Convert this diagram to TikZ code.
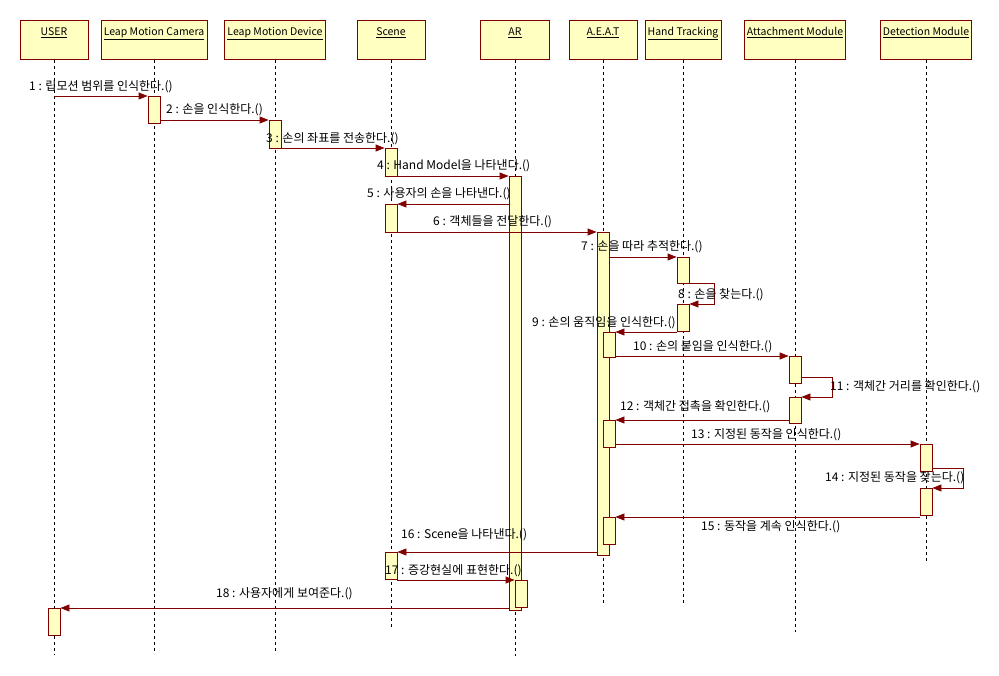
\documentclass[tikz,border=0pt]{standalone}
\usepackage{fontspec}
\setmainfont{Noto Sans CJK KR}
\usetikzlibrary{arrows.meta}
\definecolor{boxfill}{RGB}{255,255,194}
\definecolor{boxline}{RGB}{128,0,0}
\begin{document}
\begin{tikzpicture}[x=1pt,y=-1pt,
	head/.style={draw=boxline,fill=boxfill,line width=0.8pt,anchor=north,minimum height=39pt,inner xsep=0pt,inner ysep=6pt,text height=8pt,text depth=17pt,font=\fontsize{10.5}{12}\selectfont},
	act/.style={draw=boxline,fill=boxfill,line width=0.8pt,anchor=north,minimum width=12pt,inner sep=0pt},
	life/.style={dash pattern=on 3pt off 3pt,line width=0.75pt},
	msg/.style={boxline,line width=0.8pt,-{Triangle[length=9pt,width=7pt]}},
	lbl/.style={anchor=west,inner sep=0pt,font=\fontsize{12}{14}\selectfont}]
				\useasboundingbox (0,0) rectangle (999,676);
				\node[head,minimum width=68pt] (user) at (54,20){\underline{USER}};
				\node[head,minimum width=106pt] (cam) at (154,20){\underline{Leap Motion Camera}};
				\node[head,minimum width=101pt] (dev) at (275,20){\underline{Leap Motion Device}};
				\node[head,minimum width=68pt] (scene) at (391,20){\underline{Scene}};
				\node[head,minimum width=69pt] (ar) at (515,20){\underline{AR}};
				\node[head,minimum width=68pt] (aeat) at (603,20){\underline{A.E.A.T}};
				\node[head,minimum width=76pt] (hand) at (683,20){\underline{Hand Tracking}};
				\node[head,minimum width=101pt] (attach) at (795,20){\underline{Attachment Module}};
				\node[head,minimum width=91pt] (detect) at (926,20){\underline{Detection Module}};
				\draw[life] (user.south)--(user.south |- 0,655);
				\draw[life] (cam.south)--(cam.south |- 0,651);
				\draw[life] (dev.south)--(dev.south |- 0,651);
				\draw[life] (scene.south)--(scene.south |- 0,627);
				\draw[life] (ar.south)--(ar.south |- 0,656);
				\draw[life] (aeat.south)--(aeat.south |- 0,603);
				\draw[life] (hand.south)--(hand.south |- 0,603);
				\draw[life] (attach.south)--(attach.south |- 0,632);
				\draw[life] (detect.south)--(detect.south |- 0,562);
				\node[act,minimum height=27pt] (cam1) at (154,96){};
				\node[act,minimum height=28pt] (dev1) at (275,120){};
				\node[act,minimum height=28pt] (sc1) at (391,148){};
				\node[act,minimum height=434pt] (ar1) at (515,176){};
				\node[act,minimum height=28pt] (sc2) at (391,204){};
				\node[act,minimum height=323pt] (ae1) at (603,232){};
				\node[act,minimum height=26pt] (ht1) at (683,257){};
				\node[act,minimum height=27pt] (ht2) at (683,304){};
				\node[act,minimum height=25pt] (ae2) at (609,332){};
				\node[act,minimum height=27pt] (att1) at (795,356){};
				\node[act,minimum height=26pt] (att2) at (795,397){};
				\node[act,minimum height=27pt] (ae3) at (609,420){};
				\node[act,minimum height=27pt] (det1) at (926,444){};
				\node[act,minimum height=27pt] (det2) at (926,488){};
				\node[act,minimum height=27pt] (ae4) at (609,517){};
				\node[act,minimum height=27pt] (sc3) at (391,552){};
				\node[act,minimum height=27pt] (ar2) at (521,580){};
				\node[act,minimum height=27pt] (usr1) at (54,608){};
				\draw[msg] (user.south |- cam1.north)--(cam1.north west);
				\draw[msg] (cam1.east |- dev1.north)--(dev1.north west);
				\draw[msg] (dev1.east |- sc1.north)--(sc1.north west);
				\draw[msg] (sc1.east |- ar1.north)--(ar1.north west);
				\draw[msg] (ar1.west |- sc2.north)--(sc2.north east);
				\draw[msg] (sc2.east |- ae1.north)--(ae1.north west);
				\draw[msg] (ae1.east |- ht1.north)--(ht1.north west);
				\draw[msg] (ht1.south east)--++(25,0)|-(ht2.north east);
				\draw[msg] (ht2.west |- ae2.north)--(ae2.north east);
				\draw[msg] (ae2.east |- att1.north)--(att1.north west);
				\draw[msg] ([yshift=6pt]att1.south east)--++(31,0)|-(att2.north east);
				\draw[msg] (att2.west |- ae3.north)--(ae3.north east);
				\draw[msg] (ae3.east |- det1.north)--(det1.north west);
				\draw[msg] ([yshift=3pt]det1.south east)--++(31,0)|-(det2.north east);
				\draw[msg] (det2.west |- ae4.north)--(ae4.north east);
				\draw[msg] (ae1.west |- sc3.north)--(sc3.north east);
				\draw[msg] (sc3.east |- ar2.north)--(ar2.north west);
				\draw[msg] (ar1.west |- usr1.north)--(usr1.north east);
				\node[lbl] (l1) at (29,87){1 : 립모션 범위를 인식한다.()};
				\node[lbl] (l2) at (166,110){2 : 손을 인식한다.()};
				\node[lbl] (l3) at (266,139){3 : 손의 좌표를 전송한다.()};
				\node[lbl] (l4) at (377,166){4 : Hand Model을 나타낸다.()};
				\node[lbl] (l5) at (367,194){5 : 사용자의 손을 나타낸다.()};
				\node[lbl] (l6) at (433,222){6 : 객체들을 전달한다.()};
				\node[lbl] (l7) at (581,247){7 : 손을 따라 추적한다.()};
				\node[lbl] (l8) at (678,295){8 : 손을 찾는다.()};
				\node[lbl] (l9) at (532,323){9 : 손의 움직임을 인식한다.()};
				\node[lbl] (l10) at (633,347){10 : 손의 붙임을 인식한다.()};
				\node[lbl] (l11) at (830,387){11 : 객체간 거리를 확인한다.()};
				\node[lbl] (l12) at (620,407){12 : 객체간 접촉을 확인한다.()};
				\node[lbl] (l13) at (691,435){13 : 지정된 동작을 인식한다.()};
				\node[lbl] (l14) at (825,478){14 : 지정된 동작을 찾는다.()};
				\node[lbl] (l15) at (701,527){15 : 동작을 계속 인식한다.()};
				\node[lbl] (l16) at (401,535){16 : Scene을 나타낸다.()};
				\node[lbl] (l17) at (385,571){17 : 증강현실에 표현한다.()};
				\node[lbl] (l18) at (216,594){18 : 사용자에게 보여준다.()};
			\end{tikzpicture}
\end{document}
